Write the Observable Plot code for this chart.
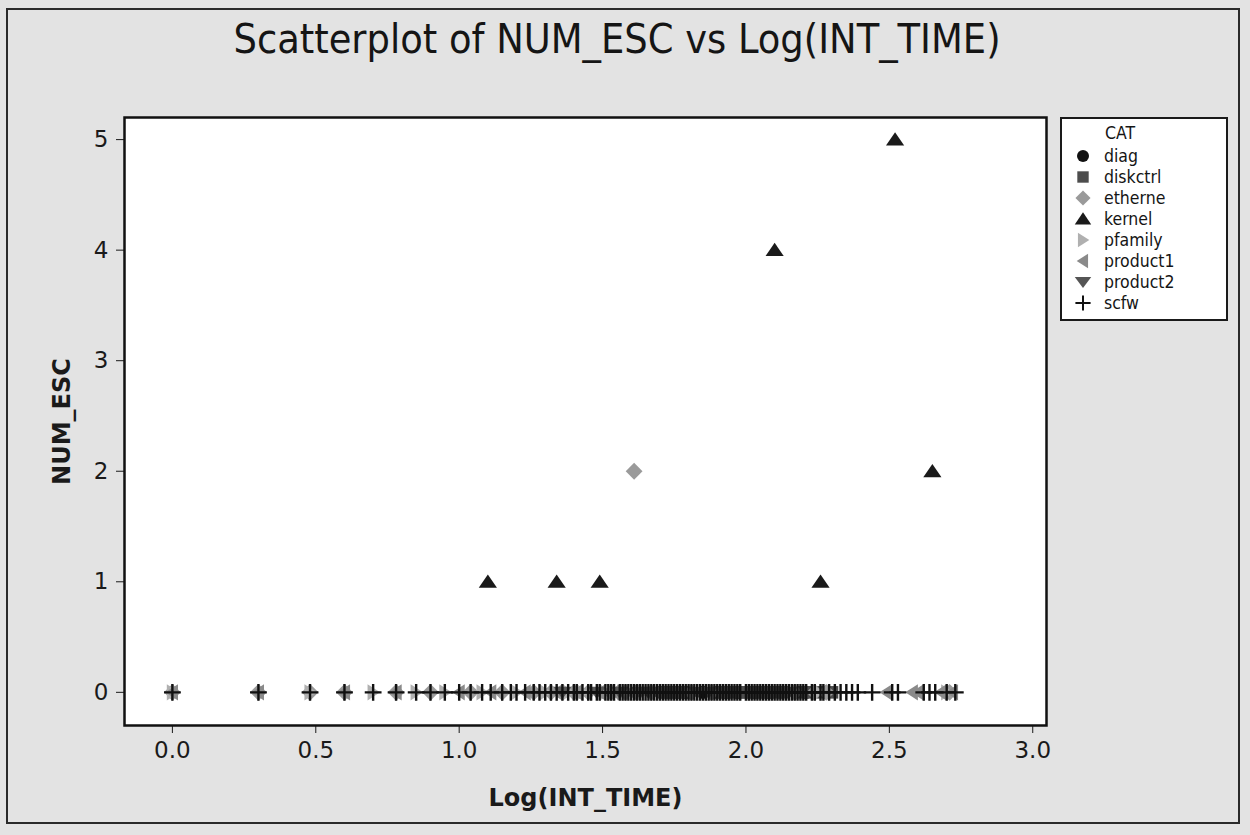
<!DOCTYPE html>
<html>
<head>
<meta charset="utf-8">
<script src="https://cdn.jsdelivr.net/npm/d3@7"></script>
<script src="https://cdn.jsdelivr.net/npm/@observablehq/plot@0.6"></script>
<style>
  html, body { margin: 0; padding: 0; background: #e3e3e3; }
  #page { position: relative; width: 1250px; height: 835px; background: #e3e3e3; overflow: hidden; font-family: "DejaVu Sans", sans-serif; }
  #border { position: absolute; left: 6px; top: 8px; width: 1234px; height: 816px; border: 2px solid #2a2a2a; box-sizing: border-box; }
  #title { position: absolute; left: 0; top: 15px; width: 1234px; text-align: center; font-family: "DejaVu Sans Condensed", "DejaVu Sans", sans-serif; font-size: 41px; color: #151515; }
  #chart { position: absolute; left: 0; top: 80px; }
  #chart svg { overflow: visible; }
  #chart [aria-label="x-axis label"], #chart [aria-label="y-axis label"] { font-weight: bold; font-size: 24px; }
  #legend { position: absolute; left: 1060px; top: 117px; width: 168px; background: white; border: 2px solid #1a1a1a; box-sizing: border-box; padding: 2px 0 6px 0; font-family: "DejaVu Sans Condensed", "DejaVu Sans", sans-serif; font-size: 17.5px; color: #151515; }
  #legend .hdr { padding-left: 43px; height: 24px; line-height: 24px; }
  #legend .row { display: flex; align-items: center; height: 21px; }
  #legend .row svg { width: 42px; height: 20px; flex: none; }
</style>
</head>
<body>
<div id="page">
  <div id="border"></div>
  <div id="title">Scatterplot of NUM_ESC vs Log(INT_TIME)</div>
  <div id="chart"></div>
  <div id="legend"></div>
</div>
<script>
// ---------------- data ----------------
const categories = ["diag", "diskctrl", "etherne", "kernel", "pfamily", "product1", "product2", "scfw"];
const xTicks = [0.0, 0.5, 1.0, 1.5, 2.0, 2.5, 3.0];
const yTicks = [0, 1, 2, 3, 4, 5];

// points above zero: [Log(INT_TIME), NUM_ESC]
const kernelPts = [[1.10, 1], [1.34, 1], [1.49, 1], [2.10, 4], [2.26, 1], [2.52, 5], [2.65, 2]];
const ethernePts = [[1.61, 2]];

// points with NUM_ESC = 0 : Log(INT_TIME) values
const diagZero = [1.79, 1.85, 1.93, 1.97, 2.03, 2.08, 2.21];
const diskctrlZero = [1.71, 1.72, 1.74, 1.75, 1.77, 1.78, 1.80, 1.89, 1.91, 1.93, 1.95, 1.98, 2.00, 2.02, 2.04, 2.06, 2.08, 2.11, 2.13, 2.19, 2.22, 2.27, 2.30];
const etherneZero = [0.00, 0.30, 0.48, 0.60, 0.78, 0.90, 1.04, 1.15, 1.26, 1.32, 1.40, 1.45, 1.53, 1.58, 1.62, 1.67, 1.81, 1.88, 2.17, 2.24, 2.28, 2.71];
const pfamilyZero = [0.00, 0.48, 0.70, 0.85, 0.95, 1.08, 1.20, 1.30, 1.38, 1.43, 1.51, 1.57, 1.64, 2.25, 2.70];
const product1Zero = [0.00, 0.30, 0.60, 0.78, 1.00, 1.11, 1.23, 1.34, 1.41, 1.49, 1.54, 1.60, 2.49, 2.58, 2.60, 2.68, 2.72];
const product2Zero = [1.36, 1.48, 1.56, 1.63, 1.66, 1.69, 1.83, 1.87, 2.15];
const scfwZero = [0.00, 0.30, 0.48, 0.60, 0.70, 0.78, 0.85, 0.90, 0.95, 1.00, 1.04, 1.08, 1.11, 1.15, 1.18, 1.20, 1.23, 1.26, 1.28, 1.30,
  1.32, 1.34, 1.36, 1.38, 1.40, 1.41, 1.43, 1.45, 1.46, 1.48, 1.49, 1.51, 1.52, 1.53, 1.54, 1.56, 1.57, 1.58, 1.59, 1.60,
  1.61, 1.62, 1.63, 1.64, 1.65, 1.66, 1.67, 1.68, 1.69, 1.70, 1.71, 1.72, 1.73, 1.74, 1.75, 1.76, 1.77, 1.78, 1.79, 1.80,
  1.81, 1.82, 1.83, 1.84, 1.85, 1.86, 1.87, 1.88, 1.89, 1.90, 1.91, 1.92, 1.93, 1.94, 1.95, 1.96, 1.97, 1.98, 2.00, 2.01,
  2.02, 2.03, 2.04, 2.05, 2.06, 2.07, 2.08, 2.09, 2.10, 2.11, 2.12, 2.13, 2.14, 2.15, 2.16, 2.17, 2.18, 2.19, 2.20, 2.21,
  2.23, 2.24, 2.26, 2.27, 2.29, 2.31, 2.33, 2.35, 2.37, 2.39, 2.44, 2.51, 2.53, 2.62, 2.64, 2.66, 2.70, 2.73];

// ---------------- symbols ----------------
const unit = s => Math.sqrt(s / Math.PI);
const poly = (c, pts) => { c.moveTo(pts[0][0], pts[0][1]); for (const p of pts.slice(1)) c.lineTo(p[0], p[1]); c.closePath(); };
const symbols = {
  diag: { draw(c, s) { const r = unit(s) * 0.95; c.moveTo(r, 0); c.arc(0, 0, r, 0, 2 * Math.PI); } },
  diskctrl: { draw(c, s) { const r = unit(s) * 0.9; poly(c, [[-r, -r], [r, -r], [r, r], [-r, r]]); } },
  etherne: { draw(c, s) { const r = unit(s) * 1.2; poly(c, [[0, -r], [r, 0], [0, r], [-r, 0]]); } },
  kernel: { draw(c, s) { const r = unit(s); poly(c, [[0, -1.05 * r], [1.3 * r, 0.85 * r], [-1.3 * r, 0.85 * r]]); } },
  pfamily: { draw(c, s) { const r = unit(s); poly(c, [[1.0 * r, 0], [-0.8 * r, -1.15 * r], [-0.8 * r, 1.15 * r]]); } },
  product1: { draw(c, s) { const r = unit(s); poly(c, [[-1.0 * r, 0], [0.8 * r, -1.15 * r], [0.8 * r, 1.15 * r]]); } },
  product2: { draw(c, s) { const r = unit(s); poly(c, [[0, 0.95 * r], [1.3 * r, -0.8 * r], [-1.3 * r, -0.8 * r]]); } },
  scfw: { draw(c, s) { const r = unit(s) * 1.2; c.moveTo(-r, 0); c.lineTo(r, 0); c.moveTo(0, -r); c.lineTo(0, r); } }
};
const colors = { diag: "#111", diskctrl: "#4d4d4d", etherne: "#9a9a9a", kernel: "#1a1a1a", pfamily: "#b0b0b0", product1: "#8a8a8a", product2: "#555", scfw: "#111" };

// ---------------- table ----------------
const zeroLists = { diag: diagZero, diskctrl: diskctrlZero, etherne: etherneZero, pfamily: pfamilyZero, product1: product1Zero, product2: product2Zero, scfw: scfwZero };
const rows = {};
for (const c of categories) rows[c] = [];
for (const c in zeroLists) for (const x of zeroLists[c]) rows[c].push({ x, y: 0, cat: c });
for (const [x, y] of kernelPts) rows.kernel.push({ x, y, cat: "kernel" });
for (const [x, y] of ethernePts) rows.etherne.push({ x, y, cat: "etherne" });

const dotMarks = categories.map(c => c === "scfw"
  ? Plot.dot(rows[c], { x: "x", y: "y", r: 7, symbol: symbols[c], fill: "none", stroke: colors[c], strokeWidth: 2.4 })
  : Plot.dot(rows[c], { x: "x", y: "y", r: 7, symbol: symbols[c], fill: colors[c], stroke: "none" }));

const chart = Plot.plot({
  width: 1060,
  height: 740,
  marginLeft: 124,
  marginRight: 14,
  marginTop: 37,
  marginBottom: 95,
  style: { fontFamily: "DejaVu Sans, sans-serif", fontSize: "23px", background: "transparent", color: "#1a1a1a", overflow: "visible" },
  x: { domain: [-0.167, 3.048], ticks: xTicks, tickFormat: d => d.toFixed(1), tickSize: 8, tickPadding: 8, label: "Log(INT_TIME)", labelAnchor: "center", labelOffset: 80, labelArrow: "none" },
  y: { domain: [-0.30, 5.20], ticks: yTicks, tickFormat: d => String(d), tickSize: 8, tickPadding: 8, label: "NUM_ESC", labelAnchor: "center", labelOffset: 72, labelArrow: "none" },
  marks: [
    Plot.frame({ fill: "white" }),
    ...dotMarks,
    Plot.frame({ stroke: "#111", strokeWidth: 2.5 })
  ]
});
document.getElementById("chart").appendChild(chart);

// ---------------- legend ----------------
const legend = document.getElementById("legend");
const hdr = document.createElement("div");
hdr.className = "hdr";
hdr.textContent = "CAT";
legend.appendChild(hdr);
for (const c of categories) {
  const row = document.createElement("div");
  row.className = "row";
  const p = d3.path();
  symbols[c].draw(p, Math.PI * 40);
  const svg = d3.create("svg").attr("viewBox", "-21 -10 42 20");
  const path = svg.append("path").attr("d", p.toString());
  if (c === "scfw") path.attr("fill", "none").attr("stroke", colors[c]).attr("stroke-width", 2);
  else path.attr("fill", colors[c]);
  row.appendChild(svg.node());
  const t = document.createElement("span");
  t.textContent = c;
  row.appendChild(t);
  legend.appendChild(row);
}
</script>
</body>
</html>
